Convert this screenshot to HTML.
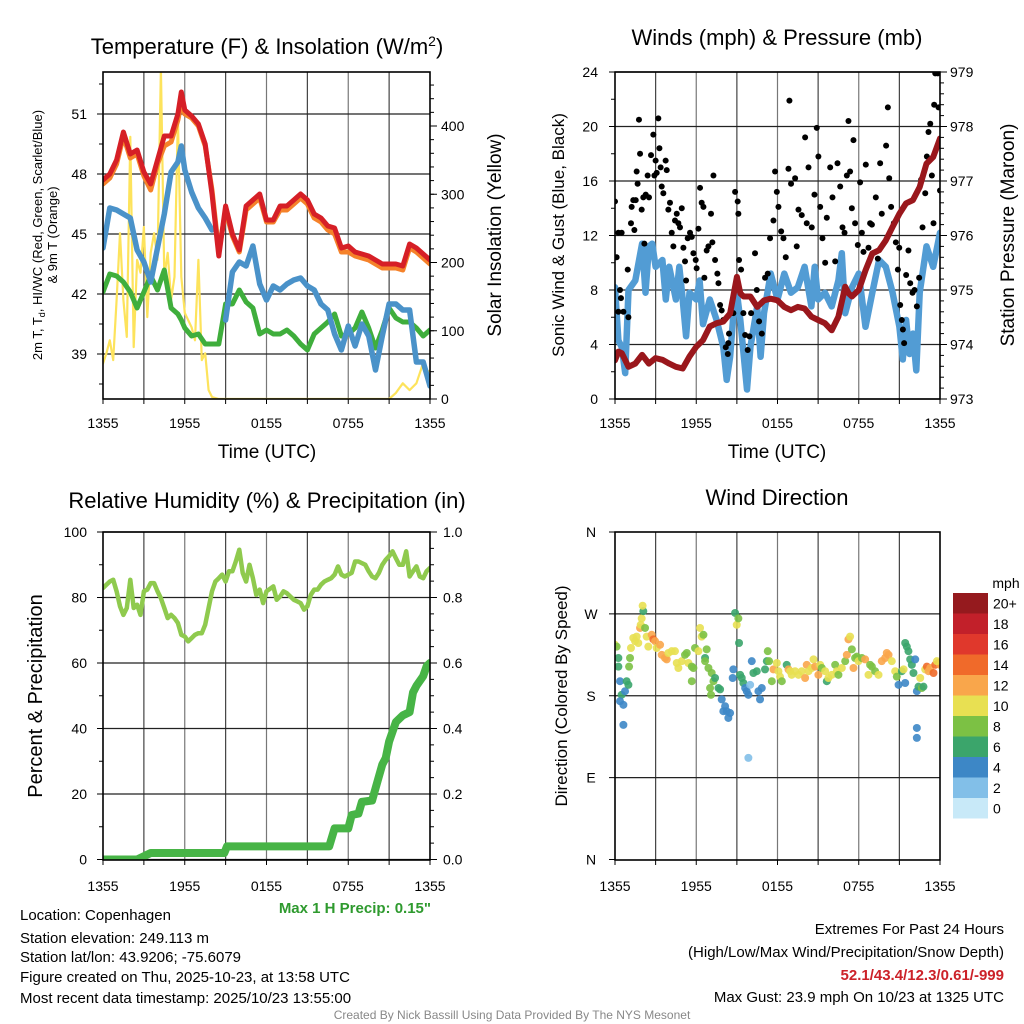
<!DOCTYPE html>
<html><head><meta charset="utf-8"><style>
html,body{margin:0;padding:0;background:#fff;}
svg{display:block;font-family:"Liberation Sans",Arial,sans-serif;}
</style></head><body>
<svg id="chart" width="1024" height="1024" viewBox="0 0 1024 1024" xmlns="http://www.w3.org/2000/svg">
<rect width="1024" height="1024" fill="#fff"/>
<defs>
<clipPath id="cTL"><rect x="103" y="72" width="327" height="327"/></clipPath>
<clipPath id="cTR"><rect x="615" y="72" width="325" height="327"/></clipPath>
<clipPath id="cBL"><rect x="103" y="532" width="327" height="328"/></clipPath>
<clipPath id="cBR"><rect x="615" y="532" width="325" height="328"/></clipPath>
</defs>
<g id="layer"></g>
<text x="267" y="54" font-size="22" text-anchor="middle">Temperature (F) &amp; Insolation (W/m<tspan dy="-8" font-size="14">2</tspan><tspan dy="8">)</tspan></text>
<text x="777" y="45" font-size="22" text-anchor="middle">Winds (mph) &amp; Pressure (mb)</text>
<text x="267" y="508" font-size="22" text-anchor="middle">Relative Humidity (%) &amp; Precipitation (in)</text>
<text x="777" y="505" font-size="22" text-anchor="middle">Wind Direction</text>
<text x="267" y="458" font-size="19" text-anchor="middle">Time (UTC)</text>
<text x="777" y="458" font-size="19" text-anchor="middle">Time (UTC)</text>
<text transform="translate(42,235) rotate(-90)" font-size="13" text-anchor="middle">2m T, T<tspan font-size="9" dy="3">d</tspan><tspan dy="-3">, HI/WC (Red, Green, Scarlet/Blue)</tspan></text>
<text transform="translate(57,235) rotate(-90)" font-size="13" text-anchor="middle">&amp; 9m T (Orange)</text>
<text transform="translate(501,235) rotate(-90)" font-size="19" text-anchor="middle">Solar Insolation (Yellow)</text>
<text transform="translate(564,235) rotate(-90)" font-size="17" text-anchor="middle">Sonic Wind &amp; Gust (Blue, Black)</text>
<text transform="translate(1014,235) rotate(-90)" font-size="19" text-anchor="middle">Station Pressure (Maroon)</text>
<text transform="translate(42,696) rotate(-90)" font-size="20" text-anchor="middle">Percent &amp; Precipitation</text>
<text transform="translate(567,696) rotate(-90)" font-size="17" text-anchor="middle">Direction (Colored By Speed)</text>
<text x="431" y="913" font-size="15" font-weight="bold" fill="#2e9a2e" text-anchor="end">Max 1 H Precip: 0.15"</text>
<g font-size="15">
<text x="20" y="920">Location: Copenhagen</text>
<text x="20" y="943">Station elevation: 249.113 m</text>
<text x="20" y="962">Station lat/lon: 43.9206; -75.6079</text>
<text x="20" y="982">Figure created on Thu, 2025-10-23, at 13:58 UTC</text>
<text x="20" y="1003">Most recent data timestamp: 2025/10/23 13:55:00</text>
</g>
<g font-size="15" text-anchor="end">
<text x="1004" y="934">Extremes For Past 24 Hours</text>
<text x="1004" y="957">(High/Low/Max Wind/Precipitation/Snow Depth)</text>
<text x="1004" y="980" font-weight="bold" fill="#cc2229">52.1/43.4/12.3/0.61/-999</text>
<text x="1004" y="1002">Max Gust: 23.9 mph On 10/23 at 1325 UTC</text>
</g>
<text x="512" y="1019" font-size="12" fill="#888" text-anchor="middle">Created By Nick Bassill Using Data Provided By The NYS Mesonet</text>
</svg>
<script>
const timeTickLabels = ["1355","1955","0155","0755","1355"];
const tempTimes = [0,0.5,1,1.5,2,2.5,3,3.5,4,4.5,5,5.5,5.75,6,6.5,7,7.5,8,8.5,9,9.5,10,10.5,11,11.5,12,12.5,13,13.5,14,14.5,15,15.5,16,16.5,17,17.5,18,18.5,19,19.5,20,20.5,21,21.5,22,22.5,23,23.5,24];
const temp2m = [47.7,48.0,48.7,50.1,49.0,49.2,48.1,47.5,48.7,49.9,49.9,51.0,52.1,51.2,50.9,50.5,49.5,47.0,43.9,46.4,45.0,44.2,46.4,46.7,47.0,45.7,45.7,46.4,46.4,46.7,47.0,46.7,46.0,45.8,45.4,45.3,44.3,44.4,44.1,44.0,43.9,43.7,43.5,43.5,43.5,43.4,44.5,44.3,44.0,43.7];
const temp9m = [47.5,47.8,48.5,49.9,48.8,49.0,47.9,47.2,48.5,49.4,49.6,50.7,51.6,51.0,50.8,50.4,49.4,47.2,44.1,46.2,44.9,44.1,46.2,46.5,46.8,45.6,45.6,46.2,46.2,46.5,46.8,46.5,45.8,45.6,45.2,45.0,44.1,44.1,43.9,43.8,43.7,43.5,43.3,43.3,43.3,43.2,44.3,44.1,43.8,43.5];
const windChill = [44.3,46.3,46.2,46.0,45.8,44.2,43.6,42.6,44.3,46.0,48.1,48.6,49.4,48.2,47.1,46.3,45.8,45.2,null,40.7,43.1,43.6,43.4,44.4,42.5,41.7,42.4,42.2,42.5,42.7,42.8,42.4,42.2,41.5,41.2,40.0,39.2,40.4,39.4,40.5,39.9,38.2,39.9,41.5,41.5,41.2,41.2,38.6,38.6,37.4];
const dewpoint = [42.1,43.0,42.9,42.6,42.1,41.3,42.1,42.9,42.2,43.2,41.3,41.0,40.7,40.3,39.9,40.0,39.5,39.5,39.5,41.5,41.5,42.2,41.6,41.3,40.0,40.2,40.0,40.0,40.2,39.9,39.5,39.2,40.0,40.3,40.6,41.0,39.9,40.0,40.3,41.1,40.3,39.3,40.2,41.3,40.8,40.6,40.6,40.3,39.9,40.2];
const tempTicks = [39,42,45,48,51];
const solarTimes = [0,0.25,0.5,0.75,1,1.25,1.5,1.75,2,2.25,2.5,2.75,3,3.25,3.5,3.75,4,4.25,4.5,4.75,5,5.25,5.5,5.75,6,6.5,6.75,7,7.25,7.5,7.75,8,8.5,21,21.5,22,22.5,23,23.5,23.75,24];
const solarValues = [52,67,86,57,145,243,145,91,384,76,204,185,252,120,214,243,204,485,179,214,145,179,413,179,126,105,86,204,57,67,13,3,0,0,9,23,13,23,53,38,42];
const solarTicks = [0,100,200,300,400];
const windTimes = [0,.25,.5,.75,1,1.5,2,2.25,2.5,2.75,3,3.5,3.75,4,4.5,4.75,5,5.25,5.5,6,6.25,6.5,7,7.5,8,8.25,8.5,8.75,9,9.25,9.5,9.75,10,10.5,10.75,11,11.5,12,12.5,13,13.5,14,14.5,14.75,15,15.5,16,16.5,16.75,17,17.5,18,18.5,19,19.5,20,20.5,21,21.25,21.5,21.75,22,22.25,22.5,23,23.5,24];
const windSpeed = [8.2,4.3,3.8,1.9,8.0,8.7,11.4,7.8,11.2,11.4,9.7,10.2,7.3,9.7,7.3,9.7,7.3,4.6,7.8,7.3,8.7,5.5,7.3,5.8,3.8,1.4,3.1,6.3,7.8,5.8,3.3,0.7,3.8,6.8,3.1,6.3,9.2,7.3,9.2,7.8,8.2,9.7,6.8,9.7,7.3,7.8,6.8,8.7,10.7,6.3,8.2,9.2,5.3,7.8,10.2,9.7,7.8,5.3,2.9,5.8,3.3,4.8,2.1,7.8,11.2,9.7,12.2];
const gustTimes = [0,.12,.25,.49,.37,.44,.25,.62,.94,.99,1.18,1.23,1.35,1.43,1.53,1.6,1.67,1.77,1.85,1.97,2.09,2.17,2.27,2.41,2.51,2.66,2.83,2.91,3.0,3.08,3.2,3.28,3.37,3.45,3.57,3.74,3.82,3.94,4.06,4.19,4.31,4.43,4.56,4.68,4.8,4.93,5.05,5.17,5.25,5.37,5.54,5.67,5.79,5.96,6.03,6.16,6.28,6.4,6.53,6.6,6.77,6.9,7.09,7.19,7.27,7.39,7.56,7.64,7.76,7.88,8.0,8.18,8.37,8.42,8.33,8.74,8.87,9.06,9.11,9.16,9.31,9.48,9.61,9.8,9.93,10.05,10.34,10.47,10.64,10.84,11.08,11.28,11.45,11.7,11.82,11.95,12.07,12.27,12.44,12.61,12.81,12.88,13.0,13.3,13.42,13.55,13.79,14.04,14.16,14.29,14.53,14.73,14.9,15.02,15.15,15.32,15.52,15.64,15.89,16.06,16.26,16.43,16.63,16.8,16.95,17.12,17.24,17.36,17.49,17.61,17.73,17.93,18.1,18.23,18.35,18.52,18.72,18.84,18.97,19.26,19.41,19.58,19.7,20.02,20.15,20.25,20.39,20.59,20.74,20.89,20.99,21.06,21.18,21.26,21.35,21.5,21.67,21.8,21.97,22.12,22.29,22.46,22.61,22.71,22.91,23.03,23.15,23.28,23.4,23.52,23.65,23.84,23.57,23.89,24];
const gustSpeed = [14.5,10.4,12.2,12.2,8.0,7.4,6.4,6.4,9.5,6.0,12.9,14.1,14.6,12.4,14.6,16.7,15.8,20.5,18.0,13.9,14.8,11.4,15.0,16.4,14.8,17.9,19.4,16.4,17.5,16.6,20.6,18.4,17.0,15.6,15.1,17.5,16.8,13.9,14.4,12.2,11.2,13.1,13.6,12.9,12.6,14.0,11.1,10.1,8.7,11.8,12.2,11.9,10.7,10.2,9.6,12.5,15.5,14.4,14.1,8.9,10.9,11.2,13.6,11.5,16.4,10.2,9.2,8.5,6.9,6.5,5.8,3.8,4.1,4.8,3.3,6.3,15.2,14.5,13.6,10.2,9.5,6.3,4.7,3.6,4.6,6.3,10.7,8.0,5.7,4.8,8.9,9.2,11.8,13.1,16.7,15.2,14.1,12.3,11.8,10.4,16.9,21.9,15.8,16.2,11.2,13.9,13.5,19.2,12.9,17.0,12.6,15.0,19.9,17.8,14.1,11.8,10.0,13.3,17.0,14.8,10.1,17.3,15.6,12.6,12.2,16.4,20.4,16.7,14.0,19.0,12.9,11.3,15.9,12.2,10.8,17.2,11.1,12.9,12.8,14.8,10.3,17.3,13.6,18.6,21.4,16.2,14.1,12.9,11.5,9.5,11.1,6.9,5.8,5.1,4.1,9.1,10.9,8.5,7.8,8.0,6.8,8.9,16.1,12.6,15.1,17.8,19.6,20.2,16.4,12.9,23.9,23.9,21.6,21.4,15.3];
const windTicks = [0,4,8,12,16,20,24];
const pressTimes = [0,.25,.5,1,1.5,2,2.5,3,3.5,4,4.5,5,5.5,6,6.5,7,7.5,8,8.5,9,9.25,9.5,10,10.5,11,11.5,12,12.5,13,13.5,14,14.5,15,15.5,16,16.5,17,17.25,17.5,18,18.5,19,19.5,20,20.5,21,21.5,22,22.5,23,23.5,24];
const pressValues = [973.71,973.87,973.84,973.59,973.65,973.81,973.65,973.75,973.72,973.65,973.59,973.56,973.78,973.96,974.08,974.33,974.39,974.42,974.57,975.24,974.94,974.88,974.88,974.69,974.81,974.84,974.81,974.69,974.63,974.69,974.66,974.51,974.45,974.39,974.26,974.51,975.06,974.94,974.88,975.0,975.36,975.67,975.73,975.91,976.16,976.40,976.59,976.65,976.89,977.32,977.44,977.78];
const pressTicks = [973,974,975,976,977,978,979];
const rhTimes = [0,.5,.75,1,1.25,1.5,1.75,2,2.25,2.5,2.75,3,3.25,3.5,3.75,4,4.25,4.5,4.75,5,5.25,5.5,5.75,6,6.25,6.5,6.75,7,7.25,7.5,7.75,8,8.25,8.5,8.75,9,9.25,9.5,9.75,10,10.25,10.5,10.75,11,11.25,11.5,11.75,12,12.5,12.75,13,13.25,13.5,13.75,14,14.25,14.5,14.75,15,15.25,15.5,15.75,16,16.25,16.5,16.75,17,17.25,17.5,17.75,18,18.25,18.5,18.75,19,19.25,19.5,19.75,20,20.25,20.5,20.75,21,21.25,21.5,21.75,22,22.25,22.5,22.75,23,23.25,23.5,23.75,24];
const rhValues = [82.9,84.9,85.4,81.9,77.3,74.7,76.8,85.4,76.8,77.8,74.7,81.9,82.4,84.4,84.4,81.9,79.8,76.8,73.7,74.7,73.7,72.2,68.6,68.1,66.6,67.6,68.6,69.1,69.1,71.7,76.8,81.9,84.9,85.9,87.0,84.9,88.0,88.0,91.0,94.6,87.5,84.9,90.0,85.9,80.8,82.4,78.3,81.9,83.4,79.3,80.3,81.9,81.3,80.3,79.3,78.8,78.3,76.3,77.3,80.8,82.4,82.4,83.9,84.9,85.4,85.9,87.0,89.5,87.0,86.4,87.0,87.5,91.0,91.0,90.5,90.0,88.0,86.4,85.9,87.5,90.0,91.5,92.6,94.1,92.0,90.0,90.0,94.1,86.4,88.0,89.5,86.4,85.9,88.0,89.0];
const precipTimes = [0,2.5,3.5,8.9,9.1,16.6,17.0,18.0,18.25,18.75,19,19.75,20,20.5,20.75,21,21.5,22,22.5,22.75,23,23.5,23.75,24];
const precipValues = [0,0,0.02,0.02,0.04,0.04,0.095,0.095,0.136,0.14,0.176,0.18,0.217,0.29,0.31,0.36,0.42,0.44,0.45,0.51,0.53,0.56,0.59,0.60];
const rhTicks = [0,20,40,60,80,100];
const precipTicks = ["0.0","0.2","0.4","0.6","0.8","1.0"];
const dirTimes = [0,.12,.25,.25,.37,.49,.37,.62,.74,.62,.86,.99,1.04,1.11,1.18,1.35,1.48,1.6,1.72,1.85,1.9,1.97,2.09,2.04,2.22,2.34,2.46,2.71,2.83,2.96,3.08,3.33,3.45,3.69,3.82,3.94,4.19,4.43,4.56,4.68,4.93,5.17,5.3,5.42,5.67,5.79,5.67,5.91,6.16,6.28,6.4,6.53,6.65,6.77,6.65,6.9,7.14,7.27,7.02,7.09,7.39,7.64,7.76,7.88,8.0,8.13,8.25,8.37,8.5,8.74,8.69,8.87,8.99,9.11,9.16,9.24,9.36,9.48,9.61,9.73,9.85,9.98,9.85,10.1,10.22,10.47,10.59,10.71,10.84,11.08,11.21,11.28,11.38,11.58,11.7,11.95,12.07,12.19,12.32,12.68,12.81,12.93,13.05,13.3,13.55,13.79,14.04,14.16,14.29,14.53,14.66,14.78,15.02,15.15,15.27,15.52,15.64,15.76,16.01,16.26,16.38,16.5,16.75,17.0,17.12,17.24,17.36,17.49,17.61,17.73,17.86,17.98,18.23,18.47,18.72,18.84,18.97,19.21,19.46,19.7,19.95,20.07,20.2,20.44,20.69,20.81,20.94,21.18,21.31,21.43,21.43,21.55,21.67,21.8,21.92,22.04,22.17,22.29,22.29,22.29,22.41,22.54,22.66,22.78,22.91,23.03,23.15,23.28,23.52,23.65,23.89,24,23.77];
const dirDegrees = [236,234,221.5,212,196,181,174,170,185,148,196,192,212,221.5,232.5,243.5,240,245,238,254.5,258,265,273,279,254.5,245,234,247,242,240,232.5,236,225,221.5,220,227,229,229,216,210.5,218,225,227,216,212,210.5,196,232.5,229,254.5,245,247,221.5,231,218,210.5,205,196,188.5,181,199.5,188.5,187,176,163,168.5,163,155.6,161,209,199.5,271,258,265,238,203,199.5,194,188.5,185,181,192,111.7,218,205,207,185,176,188.5,209,218,229,218,196,209,216,207,201,196,214,209,207,203,207,203,207,199.5,214,207,210.5,220,212,203,214,210.5,207,196,199.5,203,214,207,203,210.5,218,225,242,245,231,210.5,221.5,223,218,221.5,220,203,214,212,207,203,218,221.5,227,225,218,207,201,192,207,209,194,238,234,229,220,214,205,220,185,144.6,133.7,190,199.5,188.5,190,209,212,207,210.5,205,214,216,214,218];
const dirSpeeds = [9,7,5,5,3,5,3,3,3,3,5,5,7,7,9,9,9,9,9,11,9,9,5,9,7,9,9,11,13,11,9,11,11,11,11,9,9,9,9,9,9,7,7,9,7,7,7,7,9,9,9,7,5,7,7,7,7,7,7,7,5,5,5,3,3,3,3,3,3,3,3,5,9,7,5,5,5,5,3,3,3,1,1,3,5,5,3,3,3,5,5,7,7,7,11,9,9,9,7,5,11,9,9,9,9,9,11,11,9,9,9,11,11,9,7,9,5,9,9,7,9,7,9,7,11,11,9,7,11,7,7,9,7,11,9,7,7,7,9,11,11,11,11,9,9,7,3,5,9,3,5,5,5,5,5,5,3,3,3,3,5,9,7,5,9,13,11,11,13,13,13,11,9];
const dirTickLabels = ["N","E","S","W","N"];
const speedBins = ["0","2","4","6","8","10","12","14","16","18","20+"];
const speedColors = ["#c8e9f8","#82bfe8","#3d87c6","#3ba56b","#7cc144","#e8e052","#f9a64b","#f06a2a","#e0382c","#c2202a","#951a1e"];

const NS = "http://www.w3.org/2000/svg";
const layer = document.getElementById("layer");
function mk(tag, attrs, parent){ const e=document.createElementNS(NS,tag); for(const k in attrs) e.setAttribute(k,attrs[k]); (parent||layer).appendChild(e); return e; }
function txt(x,y,s,size,anchor,parent){ const e=mk("text",{x:x,y:y,"font-size":size,"text-anchor":anchor||"middle"},parent); e.textContent=s; return e; }

const xL = t => 103 + t/24*327;
const xR = t => 615 + t/24*325;
const yTemp = v => 354 - (v-39)*20;
const ySolar = w => 399 - w*0.6825;
const yWind = v => 399 - v*13.625;
const yPress = p => 399 - (p-973)*54.5;
const yRH = v => 859.5 - v*3.275;
const yPrecip = v => 859.5 - v*327.5;
const yDir = d => 859.5 - d/360*327.5;

function pathFrom(times, vals, xf, yf){
  let d="", pen=false;
  for(let i=0;i<times.length;i++){
    if(vals[i]===null||vals[i]===undefined){pen=false;continue;}
    d += (pen?"L":"M") + xf(times[i]).toFixed(1)+","+yf(vals[i]).toFixed(1);
    pen=true;
  }
  return d;
}

function panelFrame(x0,x1,y0,y1,name,hGrid){
  const g=mk("g",{});
  
  
  for(let i=1;i<8;i++){ const x=x0+(x1-x0)*i/8; mk("line",{x1:x,x2:x,y1:y0,y2:y1,stroke:i%2?"#444":"#777","stroke-width":1.2},g); }
  hGrid.forEach(y=>mk("line",{x1:x0,x2:x1,y1:y,y2:y,stroke:"#222","stroke-width":1.2},g));
  for(let i=0;i<=8;i++){ const x=x0+(x1-x0)*i/8; mk("line",{x1:x,x2:x,y1:y1,y2:y1+5,stroke:"#000","stroke-width":1},g); }
  return g;
}
function frameBox(x0,x1,y0,y1,name){
  const r=mk("rect",{x:x0,y:y0,width:x1-x0,height:y1-y0,fill:"none",stroke:"#000","stroke-width":1.6});
  
  
}
function xLabels(x0,x1,yb,name){
  const g=mk("g",{});
  
  
  timeTickLabels.forEach((s,i)=>txt(x0+(x1-x0)*i/4, yb, s, 14, "middle", g));
}
function yTicks(x, vals, yf, dir, len, g){ vals.forEach(v=>mk("line",{x1:x,x2:x+dir*len,y1:yf(v),y2:yf(v),stroke:"#000","stroke-width":1},g)); }

panelFrame(103,430,72,399,"temperature",tempTicks.map(yTemp));
{
  const g=mk("g",{"clip-path":"url(#cTL)",fill:"none","stroke-linejoin":"round","stroke-linecap":"round"});
  
  
  let p;
  p=mk("path",{d:pathFrom(solarTimes,solarValues,xL,ySolar),stroke:"#fde35c","stroke-width":2.2},g);
   
  p=mk("path",{d:pathFrom(tempTimes,dewpoint,xL,yTemp),stroke:"#3fae3c","stroke-width":5},g);
   
  p=mk("path",{d:pathFrom(tempTimes,windChill,xL,yTemp),stroke:"#4a92c9","stroke-width":5.5},g);
   
  p=mk("path",{d:pathFrom(tempTimes,temp9m,xL,yTemp),stroke:"#f5822a","stroke-width":5},g);
   
  p=mk("path",{d:pathFrom(tempTimes,temp2m,xL,yTemp),stroke:"#d61f26","stroke-width":5},g);
   
}
frameBox(103,430,72,399,"temperature");
{
  const g=mk("g",{});
  
  
  yTicks(103,tempTicks,yTemp,-1,6,g);
  yTicks(103,[37.5,40.5,43.5,46.5,49.5,52.5],yTemp,-1,4,g);
  tempTicks.forEach(v=>txt(87,yTemp(v)+5,String(v),14,"end",g));
  const g2=mk("g",{});
  
  
  const minor=[]; for(let w=20;w<480;w+=20) minor.push(w);
  yTicks(430,minor,ySolar,1,4,g2);
  yTicks(430,solarTicks,ySolar,1,7,g2);
  solarTicks.forEach(v=>txt(441,ySolar(v)+5,String(v),14,"start",g2));
}
xLabels(103,430,428,"temperature");

panelFrame(615,940,72,399,"winds",windTicks.map(yWind));
{
  const g=mk("g",{"clip-path":"url(#cTR)","stroke-linejoin":"round","stroke-linecap":"round"});
  
  
  let p=mk("path",{d:pathFrom(windTimes,windSpeed,xR,yWind),stroke:"#529cd4","stroke-width":6.5,fill:"none"},g);
   
  const dg=mk("g",{fill:"#000"},g);
  
  
  for(let i=0;i<gustTimes.length;i++){
    const c=mk("circle",{cx:xR(gustTimes[i]),cy:yWind(gustSpeed[i]),r:3},dg);
    
    
  }
  p=mk("path",{d:pathFrom(pressTimes,pressValues,xR,yPress),stroke:"#9a171c","stroke-width":6,fill:"none"},g);
   
}
frameBox(615,940,72,399,"winds");
{
  const g=mk("g",{});
  
  
  yTicks(615,windTicks,yWind,-1,6,g);
  yTicks(615,[2,6,10,14,18,22],yWind,-1,4,g);
  windTicks.forEach(v=>txt(598,yWind(v)+5,String(v),14,"end",g));
  const g2=mk("g",{});
  
  
  const minor=[]; for(let p=973.2;p<979;p+=0.2) minor.push(p);
  yTicks(940,minor,yPress,1,4,g2);
  yTicks(940,pressTicks,yPress,1,7,g2);
  pressTicks.forEach(v=>txt(950,yPress(v)+5,String(v),14,"start",g2));
}
xLabels(615,940,428,"winds");

panelFrame(103,430,532,860,"humidity",rhTicks.map(yRH));
{
  const g=mk("g",{"clip-path":"url(#cBL)",fill:"none","stroke-linejoin":"round","stroke-linecap":"round"});
  
  
  let p=mk("path",{d:pathFrom(rhTimes,rhValues,xL,yRH),stroke:"#8fca4e","stroke-width":4.5},g);
   
  p=mk("path",{d:pathFrom(precipTimes,precipValues,xL,yPrecip),stroke:"#47b446","stroke-width":8},g);
   
}
frameBox(103,430,532,860,"humidity");
{
  const g=mk("g",{});
  
  
  yTicks(103,rhTicks,yRH,-1,6,g);
  yTicks(103,[10,30,50,70,90],yRH,-1,4,g);
  rhTicks.forEach(v=>txt(87,yRH(v)+5,String(v),14,"end",g));
  const g2=mk("g",{});
  
  
  const minor=[]; for(let v=0.05;v<1;v+=0.05) minor.push(v);
  yTicks(430,minor,yPrecip,1,4,g2);
  precipTicks.forEach(s=>{ yTicks(430,[parseFloat(s)],yPrecip,1,7,g2); txt(443,yPrecip(parseFloat(s))+5,s,14,"start",g2); });
}
xLabels(103,430,891,"humidity");

panelFrame(615,940,532,860,"wind-direction",[90,180,270].map(yDir));
{
  const g=mk("g",{"clip-path":"url(#cBR)"});
  
  
  for(let i=0;i<dirTimes.length;i++){
    const bin=Math.min(10,Math.max(0,Math.round(dirSpeeds[i]/2)));
    const c=mk("circle",{cx:xR(dirTimes[i]),cy:yDir(dirDegrees[i]),r:4,fill:speedColors[bin],"fill-opacity":0.9},g);
    
    
  }
}
frameBox(615,940,532,860,"wind-direction");
{
  const g=mk("g",{});
  
  
  dirTickLabels.forEach((s,i)=>{ yTicks(615,[i*90],yDir,-1,6,g); txt(591,yDir(i*90)+5,s,14,"middle",g); });
}
xLabels(615,940,891,"wind-direction");
{
  const g=mk("g",{});
  
  
  txt(1006,588,"mph",14,"middle",g);
  const h=20.5, top=593;
  speedBins.forEach((s,i)=>{
    const k=speedBins.length-1-i;
    const r=mk("rect",{x:953,y:top+k*h,width:35,height:h,fill:speedColors[i]},g);
    
    
    txt(993,top+k*h+h/2+5,s,14,"start",g);
  });
}
</script>
</body></html>
